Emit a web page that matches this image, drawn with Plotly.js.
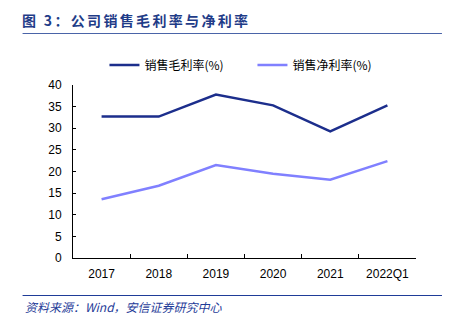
<!DOCTYPE html>
<html>
<head>
<meta charset="utf-8">
<script src="https://cdn.plot.ly/plotly-3.0.1.min.js"></script>
<style>html,body{margin:0;padding:0;background:#fff;}#chart{width:452px;height:323px;}</style>
</head>
<body>
<div id="chart"></div>
<script>
var categories = ["2017", "2018", "2019", "2020", "2021", "2022Q1"];
var grossMargin = [32.7, 32.7, 37.8, 35.3, 29.3, 35.3];
var netMargin = [13.6, 16.7, 21.5, 19.5, 18.1, 22.4];
var seriesNames = ["销售毛利率(%)", "销售净利率(%)"];
var yTicks = [0, 5, 10, 15, 20, 25, 30, 35, 40];
var titleText = "图 3：公司销售毛利率与净利率";
var sourceText = "资料来源：Wind，安信证券研究中心";

var W = 452, H = 323;
var L = 72.5, R = 36, T = 85, B = 65;
var pw = W - L - R, ph = H - T - B;
function px2x(p) { return (p - L) / pw; }
function py2y(p) { return (H - B - p) / ph; }

var cjk = '"Noto Sans CJK SC", "Liberation Sans", sans-serif';
var spacedTitle = Array.from(titleText).join('\u2006');

var traces = [
  {x: categories, y: grossMargin, name: seriesNames[0], type: 'scatter', mode: 'lines',
   line: {color: '#1C2E8C', width: 2.5}},
  {x: categories, y: netMargin, name: seriesNames[1], type: 'scatter', mode: 'lines',
   line: {color: '#8080FF', width: 2.5}}
];

var layout = {
  width: W, height: H,
  margin: {l: L, r: R, t: T, b: B, pad: 0},
  paper_bgcolor: '#fff', plot_bgcolor: '#fff',
  font: {family: '"Liberation Sans", Arial, sans-serif', size: 12, color: '#000'},
  title: {text: spacedTitle, xref: 'container', yref: 'container',
          x: 22 / W, xanchor: 'left', y: 1 - 21 / H, yanchor: 'middle',
          font: {family: cjk, size: 14, color: '#1F3C88', weight: 'bold'}},
  showlegend: true,
  legend: {orientation: 'h', x: px2x(104), xanchor: 'left', y: py2y(65), yanchor: 'middle',
           font: {family: cjk, size: 12, color: '#000'}, entrywidth: 103, entrywidthmode: 'pixels',
           bgcolor: 'rgba(0,0,0,0)', itemwidth: 30},
  xaxis: {type: 'category', range: [-0.5, 5.5], showgrid: false, zeroline: false, showline: true,
          linecolor: '#000', linewidth: 1,
          ticks: 'inside', tickson: 'boundaries', ticklen: 4, tickcolor: '#000',
          tickfont: {size: 12, color: '#000'}, ticklabelstandoff: 5, fixedrange: true},
  yaxis: {range: [0, 40], tickvals: yTicks, showgrid: false, zeroline: false, showline: true,
          linecolor: '#000', linewidth: 1, ticks: 'inside', ticklen: 3, tickcolor: '#000',
          tickfont: {size: 12, color: '#000'}, ticklabelstandoff: 8, fixedrange: true},
  shapes: [
    {type: 'line', xref: 'paper', yref: 'paper', x0: px2x(22), x1: px2x(442), y0: py2y(33.5), y1: py2y(33.5),
     line: {color: '#4A64A8', width: 1}},
    {type: 'line', xref: 'paper', yref: 'paper', x0: px2x(22), x1: px2x(442), y0: py2y(295.5), y1: py2y(295.5),
     line: {color: '#1F3C98', width: 1.2}}
  ],
  annotations: [
    {text: sourceText, xref: 'paper', yref: 'paper', x: px2x(22), y: py2y(306),
     xanchor: 'left', yanchor: 'middle', showarrow: false,
     font: {family: cjk, size: 12, color: '#1F3C98', style: 'italic'}}
  ]
};

Plotly.newPlot('chart', traces, layout, {displayModeBar: false, staticPlot: true});
</script>
</body>
</html>
